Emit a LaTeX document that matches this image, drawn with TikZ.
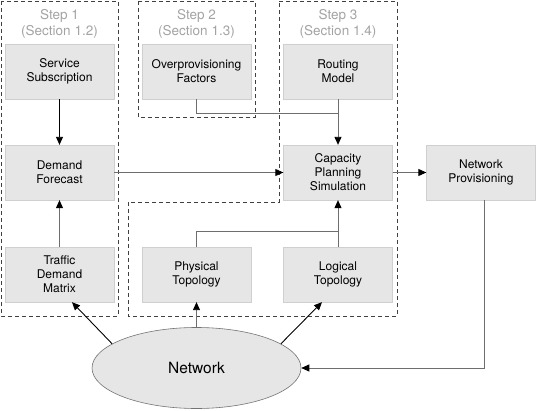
\documentclass[tikz,border=0pt]{standalone}
\usepackage{fontspec}
\setmainfont{TeX Gyre Heros}
\usetikzlibrary{arrows.meta,calc,shapes.geometric}
\definecolor{boxfill}{HTML}{E6E6E6}
\definecolor{steptext}{HTML}{A3A3A3}
\definecolor{linegray}{HTML}{6E6E6E}
\begin{document}
\begin{tikzpicture}[x=1pt,y=-1pt,
  procbox/.style={fill=boxfill,draw=boxfill!90!black,line width=0.3pt,minimum width=109pt,minimum height=55pt,inner sep=1pt,align=center,font=\fontsize{12}{14}\selectfont},
  steplabel/.style={text=steptext,align=center,font=\fontsize{13.5}{16}\selectfont},
  stepframe/.style={draw=black!75,dashed,dash pattern=on 4pt off 3pt,line width=0.8pt},
  arr/.style={draw=linegray,line width=0.9pt,-{Triangle[length=8pt,width=7pt,color=black]}},
  plain/.style={draw=linegray,line width=0.9pt}]
\useasboundingbox (0,0) rectangle (537,411);
% frames
\draw[stepframe] (1,1) rectangle (118,316);
\draw[stepframe] (138,1) rectangle (255,117);
\draw[stepframe] (279,1) -- (397,1) -- (397,316) -- (128,316) -- (128,202) -- (279,202) -- cycle;
\node[steplabel] (s1) at (59.5,24) {Step 1\\(Section 1.2)};
\node[steplabel] (s2) at (196.5,24) {Step 2\\(Section 1.3)};
\node[steplabel] (s3) at (338,24) {Step 3\\(Section 1.4)};
% boxes
\node[procbox] (ss) at (59.5,71.5) {Service\\Subscription};
\node[procbox] (df) at (59.5,172.5) {Demand\\Forecast};
\node[procbox] (tdm) at (59.5,274.5) {Traffic\\Demand\\Matrix};
\node[procbox] (op) at (196.5,71.5) {Overprovisioning\\Factors};
\node[procbox] (pt) at (196.5,274.5) {Physical\\Topology};
\node[procbox] (rm) at (338,71.5) {Routing\\Model};
\node[procbox] (cps) at (338,172.5) {Capacity\\Planning\\Simulation};
\node[procbox] (lt) at (338,274.5) {Logical\\Topology};
\node[procbox] (np) at (481,172.5) {Network\\Provisioning};
\node[ellipse,fill=boxfill,draw=black!55,line width=0.6pt,minimum width=209pt,minimum height=81pt,inner sep=0pt,font=\fontsize{15.5}{18}\selectfont] (net) at (196.5,368) {Network};
% connectors
\draw[arr,draw=black] (ss.south) -- (df.north);
\draw[arr] (tdm.north) -- (df.south);
\draw[arr] (df.east) -- (cps.west);
\draw[plain] (op.south) |- ($(rm.south)+(0,14)$);
\draw[arr] (rm.south) -- (cps.north);
\draw[plain] (pt.north) |- ($(lt.north)+(0,-15)$);
\draw[arr] (lt.north) -- (cps.south);
\draw[arr] (cps.east) -- (np.west);
\draw[arr,draw=black] (net.164) -- ([xshift=12.5pt]tdm.south);
\draw[arr] (net.north) -- (pt.south);
\draw[arr,draw=black] (net.16) -- ([xshift=-16pt]lt.south);
\draw[arr] ([xshift=3pt]np.south) |- (net.east);
\end{tikzpicture}
\end{document}
